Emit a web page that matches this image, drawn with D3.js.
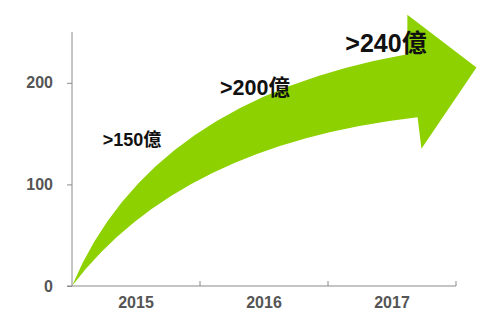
<!DOCTYPE html>
<html>
<head>
<meta charset="utf-8">
<script src="https://cdn.jsdelivr.net/npm/d3@7"></script>
<style>
  body { margin: 0; background: #fff; }
  .axis text { font-family: "Liberation Sans", Arial, sans-serif; font-weight: bold; font-size: 16px; fill: #555; }
  .axis path, .axis line { stroke: #8a8a8a; }
  .lbl { font-family: "Liberation Sans", Arial, "Noto Sans CJK TC", sans-serif; font-weight: bold; fill: #111; }
</style>
</head>
<body>
<div id="chart"></div>
<script>
// data
var years = ["2015", "2016", "2017"];
var values = [150, 200, 240];
var labels = [">150億", ">200億", ">240億"];
var yTicks = [0, 100, 200];

var width = 500, height = 325;
// plot edges (note: "top" is taken by window.top)
var plotLeft = 72, plotRight = 456, plotTop = 32, plotBottom = 286;

var svg = d3.select("#chart").append("svg")
    .attr("width", width)
    .attr("height", height);

var x = d3.scaleBand().domain(years).range([plotLeft, plotRight]);
// continuous version of the x axis, in band units
var xc = d3.scaleLinear().domain([0, years.length]).range([plotLeft, plotRight]);
var y = d3.scaleLinear().domain([0, 250]).range([plotBottom, plotTop]);

// arrow outline, in (band units, value) so it follows the scales
var arrowUpper = { ctrl: [0.61, 183], end: [2.62, 228] };
var arrowLower = { ctrl: [0.84, 139], end: [2.70, 166] };
var arrowHead = { top: [2.62, 267], tip: [3.16, 215], bottom: [2.73, 135] };

function pt(p) { return [xc(p[0]), y(p[1])]; }

var o = pt([0, 0]);
var uc = pt(arrowUpper.ctrl), ue = pt(arrowUpper.end);
var lc = pt(arrowLower.ctrl), le = pt(arrowLower.end);
var ht = pt(arrowHead.top), hp = pt(arrowHead.tip), hb = pt(arrowHead.bottom);

var path = d3.path();
path.moveTo(o[0], o[1]);
path.quadraticCurveTo(uc[0], uc[1], ue[0], ue[1]);
path.lineTo(ht[0], ht[1]);
path.lineTo(hp[0], hp[1]);
path.lineTo(hb[0], hb[1]);
path.lineTo(le[0], le[1]);
path.quadraticCurveTo(lc[0], lc[1], o[0], o[1]);
path.closePath();

svg.append("path")
    .attr("d", path.toString())
    .attr("fill", "#8ed100");

// y axis
svg.append("g")
    .attr("class", "axis")
    .attr("transform", "translate(" + plotLeft + ",0)")
    .call(d3.axisLeft(y).tickValues(yTicks).tickSize(5).tickSizeOuter(0).tickPadding(14))
    .call(function (g) { g.select(".domain").attr("d", "M0," + y(250) + "V" + y(0)); });

// x axis: labels centred, ticks at the band edges
var xg = svg.append("g")
    .attr("class", "axis")
    .attr("transform", "translate(0," + plotBottom + ")")
    .call(d3.axisBottom(x).tickSize(0).tickPadding(11))
    .call(function (g) { g.select(".domain").attr("d", "M" + (plotLeft - 5) + ",0H" + plotRight); });

xg.selectAll(".edge")
    .data(years)
    .enter().append("line")
    .attr("class", "edge")
    .attr("x1", function (d) { return x(d) + x.bandwidth(); })
    .attr("x2", function (d) { return x(d) + x.bandwidth(); })
    .attr("y1", 0)
    .attr("y2", -5);

// value labels
var sizes = [18, 21.5, 25];
var shift = [-4, -9, -6];
var lift = [6, 5, 1];
svg.selectAll(".lbl")
    .data(values)
    .enter().append("text")
    .attr("class", "lbl")
    .attr("x", function (d, i) { return x(years[i]) + x.bandwidth() / 2 + shift[i]; })
    .attr("y", function (d, i) { return y(d) + lift[i]; })
    .attr("dy", "0.35em")
    .attr("text-anchor", "middle")
    .style("font-size", function (d, i) { return sizes[i] + "px"; })
    .text(function (d, i) { return labels[i]; });
</script>
</body>
</html>
